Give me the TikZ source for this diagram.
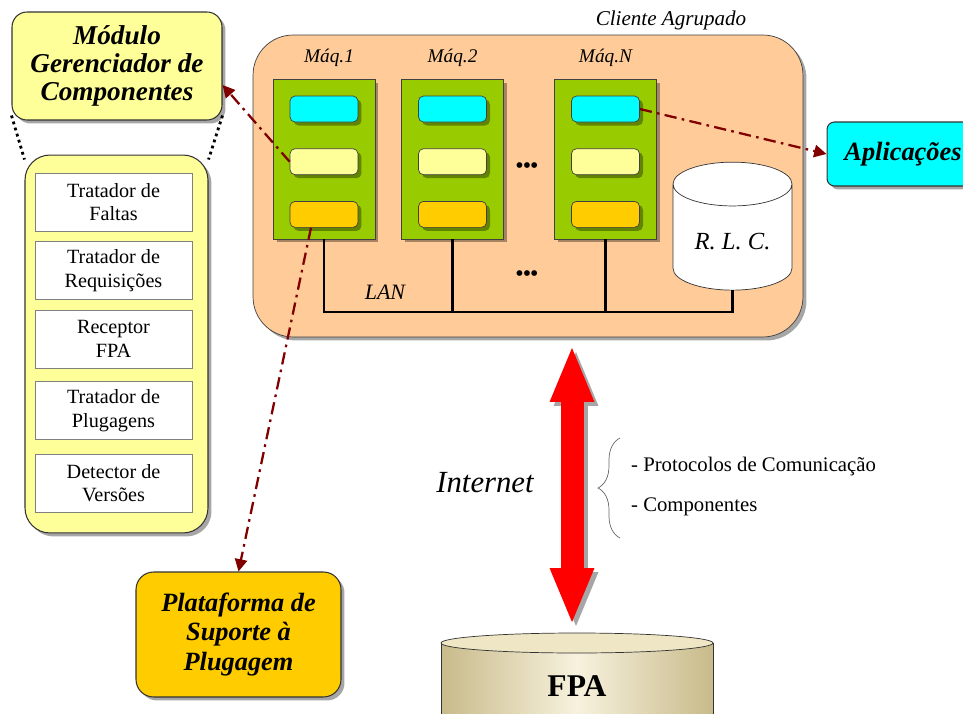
\documentclass[tikz,border=0pt]{standalone}
\usepackage{fontspec}
\setmainfont{Liberation Serif}
\usetikzlibrary{positioning,shapes.geometric,shadows,arrows.meta,decorations.pathreplacing}

\definecolor{peach}{HTML}{FFCC99}
\definecolor{mgreen}{HTML}{99CC00}
\definecolor{cyan1}{HTML}{00FFFF}
\definecolor{ylw}{HTML}{FFFF99}
\definecolor{orng}{HTML}{FFCC00}
\definecolor{linkred}{HTML}{800000}
\definecolor{fpadark}{HTML}{C8BA8A}
\definecolor{fpalight}{HTML}{F7F2DE}
\definecolor{fpatop}{HTML}{EEE6C4}

\begin{document}
\begin{tikzpicture}[x=0.02cm,y=-0.02cm]
\useasboundingbox (0,0) rectangle (963,713);
\clip (0,0) rectangle (963,713);
\begin{scope}

\tikzstyle{shd} = [drop shadow={shadow xshift=0.07cm,shadow yshift=-0.07cm,fill=black,opacity=0.35}];
\tikzstyle{node1} = [draw=black!80,line width=0.6pt,fill=ylw,align=center,shd];
\tikzstyle{node2} = [draw=black!50,fill=white,minimum width=3.14cm,minimum height=1.16cm,align=center,font=\fontsize{11.5}{13.5}\selectfont];
\tikzstyle{node3} = [draw=black!75,fill=mgreen,minimum width=2.04cm,minimum height=3.2cm,shd];
\tikzstyle{node4} = [draw=black!75,rounded corners=0.1cm,minimum width=1.36cm,minimum height=0.52cm,shd];
\tikzstyle{big} = [font=\bfseries\itshape\fontsize{15}{16}\selectfont,align=center];
\tikzstyle{lan} = [line width=1.4pt];
\tikzstyle{link} = [draw=linkred,line width=1.3pt,dash pattern=on 7pt off 3pt on 1.5pt off 3pt,-{Triangle[length=7pt,width=7pt]}];
\tikzstyle{bigarrow} = [line width=0.46cm,{Triangle[length=1.14cm,width=0.8cm]}-{Triangle[length=1.14cm,width=0.8cm]}];

% modulo gerenciador
\node [node1,big,rounded corners=0.3cm,minimum width=4.2cm,minimum height=2.16cm,font=\bfseries\itshape\fontsize{15.5}{16}\selectfont] (modulo) at (117,66) {M\'odulo\\Gerenciador de\\Componentes};
\node [node1,rounded corners=0.5cm,minimum width=3.66cm,minimum height=7.56cm] (col) at (116.5,344) {};
\node [node2] (t1) at (113.5,202) {Tratador de\\Faltas};
\node [node2] (t2) at (113.5,270.5) {Tratador de\\Requisi\c{c}\~oes};
\node [node2] (t3) at (113.5,339) {Receptor\\FPA};
\node [node2] (t4) at (113.5,410.5) {Tratador de\\Plugagens};
\node [node2] (t5) at (113.5,483) {Detector de\\Vers\~oes};

\draw [dotted,line width=1.6pt] ([yshift=0.1cm]modulo.south west) -- ([yshift=-0.1cm]col.north west);
\draw [dotted,line width=1.6pt] ([yshift=0.1cm]modulo.south east) -- ([yshift=-0.1cm]col.north east);

% cliente agrupado
\node [draw=black!75,fill=peach,rounded corners=0.8cm,minimum width=11cm,minimum height=6.04cm,shd] (cliente) at (528,186) {};
\node [font=\itshape\fontsize{12}{14}\selectfont] (ca) at (671,20) {Cliente Agrupado};

\node [node3] (m1) at (324,159) {};
\node [node3] (m2) at (452.5,159) {};
\node [node3] (m3) at (605.5,159) {};
\node [font=\itshape\fontsize{11}{13}\selectfont] (n1) at ([xshift=0.1cm,yshift=0.42cm]m1.north) {M\'aq.1};
\node [font=\itshape\fontsize{11}{13}\selectfont] (n2) at ([yshift=0.42cm]m2.north) {M\'aq.2};
\node [font=\itshape\fontsize{11}{13}\selectfont] (n3) at ([yshift=0.42cm]m3.north) {M\'aq.N};

\node [node4,fill=cyan1,anchor=north] (c1) at ([yshift=-0.34cm]m1.north) {};
\node [node4,fill=ylw,anchor=north] (y1) at ([yshift=-0.52cm]c1.south) {};
\node [node4,fill=orng,anchor=north] (o1) at ([yshift=-0.52cm]y1.south) {};
\node [node4,fill=cyan1,anchor=north] (c2) at ([yshift=-0.34cm]m2.north) {};
\node [node4,fill=ylw,anchor=north] (y2) at ([yshift=-0.52cm]c2.south) {};
\node [node4,fill=orng,anchor=north] (o2) at ([yshift=-0.52cm]y2.south) {};
\node [node4,fill=cyan1,anchor=north] (c3) at ([yshift=-0.34cm]m3.north) {};
\node [node4,fill=ylw,anchor=north] (y3) at ([yshift=-0.52cm]c3.south) {};
\node [node4,fill=orng,anchor=north] (o3) at ([yshift=-0.52cm]y3.south) {};

\node [font=\bfseries\fontsize{12}{14}\selectfont] (d1) at (527,168) {•••};
\node [font=\bfseries\fontsize{12}{14}\selectfont] (d2) at (527,276) {•••};

\node [cylinder,shape border rotate=90,aspect=0.5,draw=black!80,fill=white,minimum width=2.38cm,minimum height=2.56cm,font=\itshape\fontsize{14}{16}\selectfont] (rlc) at (732.5,242) {R. L. C.};

\coordinate (bus) at (0,312);
\draw [lan] (m1.south) -- (m1.south |- bus) -| (rlc.south);
\draw [lan] (m2.south) -- (m2.south |- bus);
\draw [lan] (m3.south) -- (m3.south |- bus);
\node [font=\itshape\fontsize{12.5}{14}\selectfont] (lan1) at (385,292) {LAN};

% aplicacoes e plataforma
\node [node1,big,fill=cyan1,rounded corners=0.15cm,minimum width=3.04cm,minimum height=1.28cm] (apl) at (903,154) {Aplica\c{c}\~oes};
\node [node1,big,fill=orng,rounded corners=0.35cm,minimum width=4.1cm,minimum height=2.5cm,font=\bfseries\itshape\fontsize{15}{17}\selectfont] (plat) at (238.5,634.5) {Plataforma de\\Suporte \`a\\Plugagem};

\draw [link] (y1.west) -- ([yshift=-0.38cm]modulo.east);
\draw [link] ([xshift=-0.26cm]o1.south) -- (plat.north);
\draw [link] (c3.east) -- (apl.west);

% internet
\coordinate (net1) at (572,345);
\coordinate (net2) at (572,625);
\draw [bigarrow,draw=black!35,fill=black!35] ([xshift=0.08cm,yshift=-0.08cm]net1) -- ([xshift=0.08cm,yshift=-0.08cm]net2);
\draw [bigarrow,draw=red,fill=red] (net1) -- (net2);
\node [font=\itshape\fontsize{17.5}{20}\selectfont] (inet) at (485,483) {Internet};

\node [anchor=west,font=\fontsize{11.8}{13}\selectfont] (p1) at (625,467) {- Protocolos de Comunica\c{c}\~ao};
\node [anchor=west,font=\fontsize{11.8}{13}\selectfont] (p2) at (625,507) {- Componentes};
\coordinate (br1) at (620,538);
\coordinate (br2) at (620,438);
\draw [black!60,decorate,decoration={brace,amplitude=0.44cm}] (br1) -- (br2);

% fpa
\shade [left color=fpadark,right color=fpadark,middle color=fpalight] (441,643) rectangle (713,740);
\draw [black!80] (441,643) -- (441,740) (713,643) -- (713,740);
\draw [black!80,fill=fpatop] (577,643) ellipse [x radius=2.72cm,y radius=0.2cm];
\node [font=\bfseries\fontsize{18}{20}\selectfont] (fpa) at (577,686) {FPA};

\end{scope}
\end{tikzpicture}
\end{document}
